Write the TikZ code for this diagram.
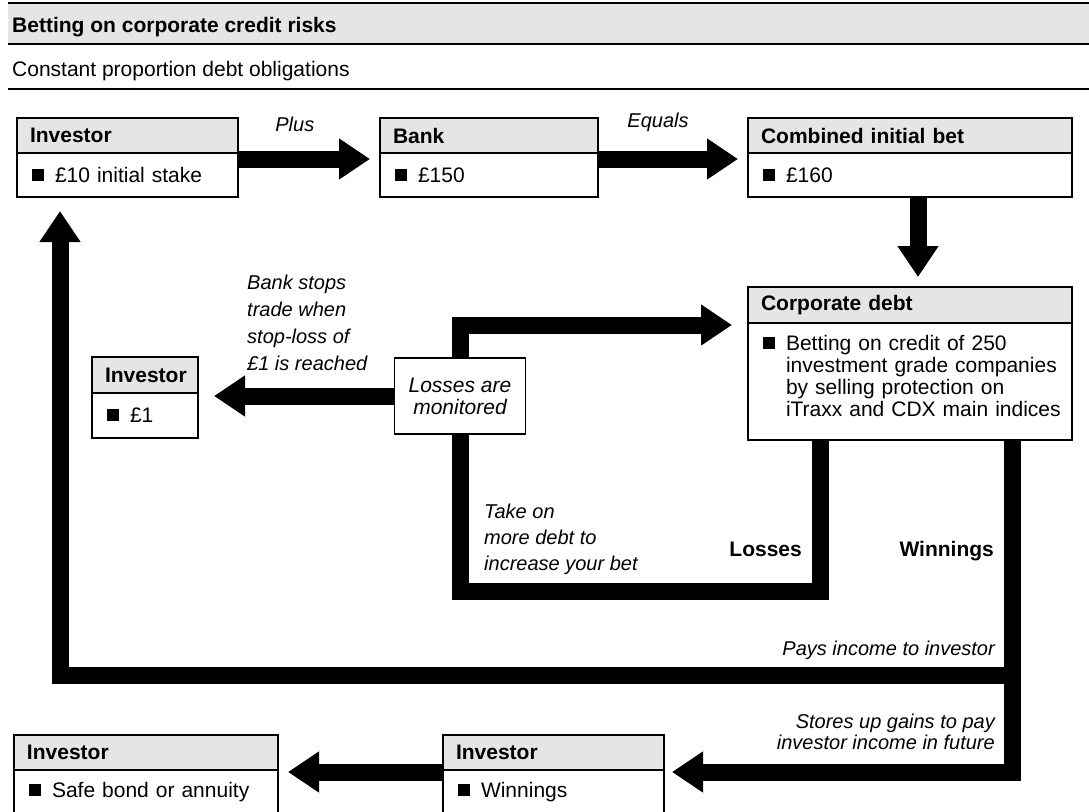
\documentclass[tikz,border=0pt]{standalone}
\usepackage{fontspec}
\setmainfont{Liberation Sans}
\usetikzlibrary{arrows.meta,positioning}
\definecolor{hdrgray}{gray}{0.9}
\newcommand{\fsz}{\fontsize{21}{22}\selectfont}
\newcommand{\bul}{\makebox[23pt][l]{\rule[1.5pt]{12pt}{12pt}}}
\tikzset{
  hdr/.style={draw, fill=hdrgray, line width=1.5pt, outer sep=0pt, inner xsep=13pt, inner ysep=0pt,
    minimum height=35pt, text width=#1-26pt, align=left, font=\fsz\bfseries, anchor=north west},
  body/.style={draw, line width=1.5pt, outer sep=0pt, inner xsep=15pt, inner ysep=0pt,
    text width=#1-30pt, align=left},
  bigarrow/.style={line width=17pt, -{Triangle[length=31pt,width=39pt]}, shorten >=10pt},
  bigline/.style={line width=17pt},
  note/.style={inner sep=0pt, align=left, font=\fontsize{20}{27}\selectfont\itshape},
  lbl/.style={inner sep=0pt, font=\fontsize{20}{24}\selectfont\itshape}
}

\begin{document}
\begin{tikzpicture}[x=1pt,y=-1pt,font=\fsz]
  \useasboundingbox (0,0) rectangle (1089,811);
  % title band
  \fill[hdrgray] (8,3) rectangle (1089,44);
  \draw[line width=2pt] (8,3) -- (1089,3);
  \draw[line width=1.5pt] (8,44) -- (1089,44);
  \draw[line width=2.5pt] (8,89) -- (1089,89);
  \node[anchor=base west, inner sep=0pt, font=\fsz\bfseries] (title) at (12,32) {Betting on corporate credit risks};
  \node[anchor=base west, inner sep=0pt] (subtitle) at (12,76) {Constant proportion debt obligations};

  % boxes
  \node[hdr=221] (inv1h) at (17,118) {Investor};
  \node[body=221, minimum height=44pt, below=0pt of inv1h] (inv1) {\bul £10 initial stake};
  \node[hdr=218] (bankh) at (380,118) {Bank};
  \node[body=218, minimum height=44pt, below=0pt of bankh] (bank) {\bul £150};
  \node[hdr=324] (combh) at (748,118) {Combined initial bet};
  \node[body=324, minimum height=44pt, below=0pt of combh] (comb) {\bul £160};
  \node[hdr=324, minimum height=36pt] (corph) at (748,287) {Corporate debt};
  \node[body=324, minimum height=117pt, below=0pt of corph] (corp) {\bul\parbox[t]{290pt}{\raggedright
    Betting on credit of 250\\ investment grade companies\\ by selling protection on\\ iTraxx and CDX main indices\par\vspace{12pt}}};
  \node[hdr=106, minimum height=36pt] (inv2h) at (92,357) {Investor};
  \node[body=106, minimum height=45pt, below=0pt of inv2h] (inv2) {\bul £1};
  \node[draw, line width=1.5pt, outer sep=0pt, minimum width=131pt, minimum height=76pt,
    align=center, font=\fsz\itshape] (mon) at (460,396) {Losses are\\monitored};
  \node[hdr=264] (inv3h) at (14,735) {Investor};
  \node[body=264, minimum height=45pt, below=0pt of inv3h] (inv3) {\bul Safe bond or annuity};
  \node[hdr=221] (inv4h) at (443,735) {Investor};
  \node[body=221, minimum height=45pt, below=0pt of inv4h] (inv4) {\bul Winnings};

  % flows
  \draw[bigarrow] ([yshift=-6pt]inv1h.south east) -- ([yshift=-6pt]bankh.south west)
    node[lbl, pos=0.4, above=19pt] {Plus};
  \draw[bigarrow] ([yshift=-6pt]bankh.south east) -- ([yshift=-6pt]combh.south west)
    node[lbl, pos=0.4, above=19pt] {Equals};
  \draw[bigarrow] ([xshift=8pt]comb.south) -- ([xshift=8pt]corph.north);
  \draw[bigline] ([xshift=72pt]corp.south west) -- ++(0,151) -| (mon.south);
  \draw[bigarrow, shorten >=16pt] (mon.north) |- ([yshift=-2pt]corph.south west);
  \draw[bigarrow, shorten >=16pt] (mon.west) -- (mon.west -| inv2.east);
  \draw[bigarrow, shorten >=8pt] ([xshift=-60pt]corp.south east) |- ([yshift=-2pt]inv4h.south east);
  \coordinate (payjoin) at (1012,675);
  \draw[bigarrow, shorten >=14pt] (payjoin) -| ([xshift=43pt]inv1.south west);
  \draw[bigarrow] ([yshift=-2pt]inv4h.south west) -- ([yshift=-2pt]inv3h.south east);

  % labels
  \node[note, anchor=north west] (stoptxt) at (247,275) {Bank stops\\trade when\\stop-loss of\\£1 is reached};
  \node[note, font=\fontsize{20}{26}\selectfont\itshape, anchor=north west] (taketxt) at (484,504)
    {Take on\\more debt to\\increase your bet};
  \node[anchor=base east, inner sep=0pt, font=\fsz\bfseries] (losstxt) at (802,556) {Losses};
  \node[anchor=base east, inner sep=0pt, font=\fsz\bfseries] (wintxt) at (994,556) {Winnings};
  \node[lbl, anchor=base east] (paytxt) at (995,655) {Pays income to investor};
  \node[note, align=right, font=\fontsize{20}{21}\selectfont\itshape, anchor=north east] (storetxt)
    at (995,714) {Stores up gains to pay\\investor income in future};
\end{tikzpicture}
\end{document}
